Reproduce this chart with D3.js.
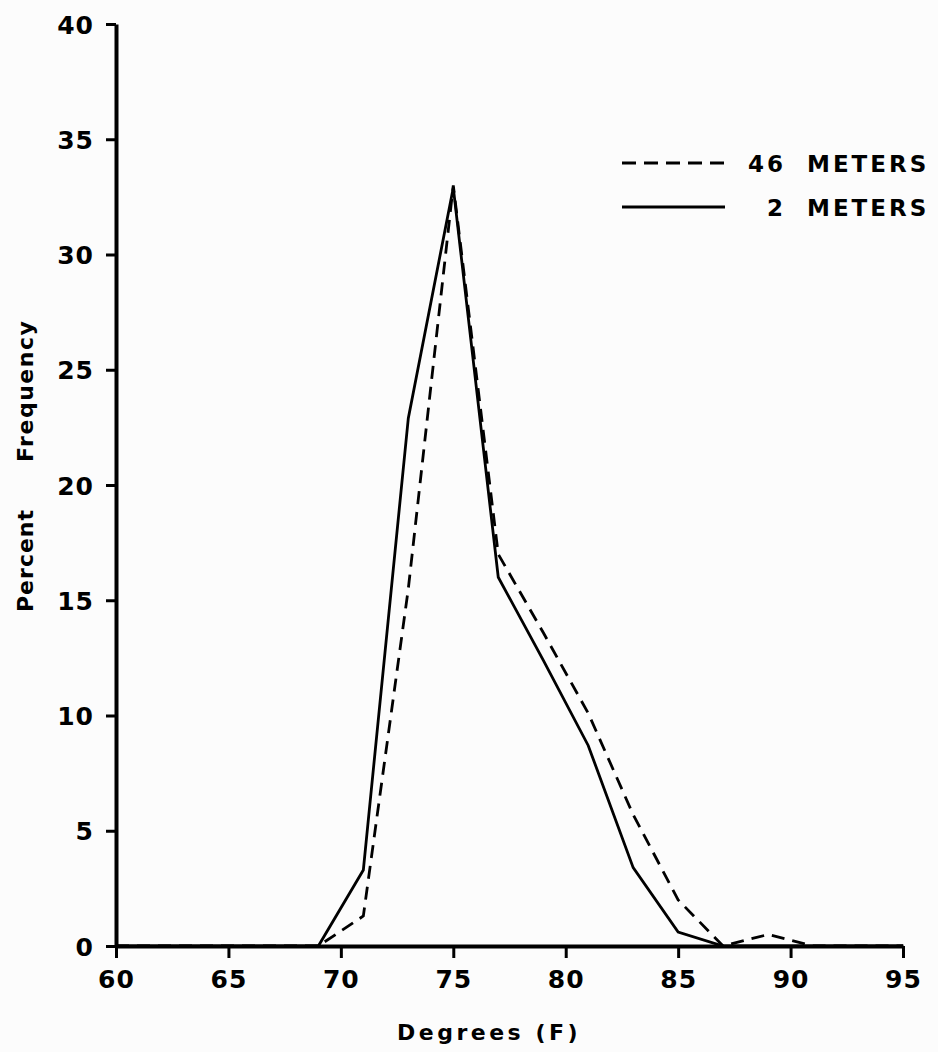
<!DOCTYPE html>
<html>
<head>
<meta charset="utf-8">
<script src="https://cdn.jsdelivr.net/npm/d3@7"></script>
<style>
  html, body { margin: 0; padding: 0; background: #fcfcfc; }
  svg { display: block; }
  text { font-family: "DejaVu Sans", sans-serif; font-weight: bold; fill: #000; }
</style>
</head>
<body>
<script>
// ---- data ----
const degrees     = [60, 69, 71, 73, 75, 77, 79, 81, 83, 85, 87, 89, 91, 95];
const meters46    = [0,  0,  1.3, 15.5, 33.0, 17.0, 13.6, 10.1, 5.7, 2.0, 0, 0.5, 0, 0];
const meters2     = [0,  0,  3.3, 22.9, 32.9, 16.0, 12.4, 8.7, 3.4, 0.6, 0, 0, 0, 0];
const xTicks      = [60, 65, 70, 75, 80, 85, 90, 95];
const yTicks      = [0, 5, 10, 15, 20, 25, 30, 35, 40];
const legendNames = ["46 METERS", "2 METERS"];
const xTitle      = "Degrees (F)";
const yTitleWords = ["Percent", "Frequency"];

const W = 938, H = 1052;
const svg = d3.select("body").append("svg").attr("width", W).attr("height", H);

const x = d3.scaleLinear().domain([60, 95]).range([116, 903]);
const y = d3.scaleLinear().domain([0, 40]).range([946, 24]);

// axes
const xAxis = d3.axisBottom(x).tickValues(xTicks).tickSize(12).tickSizeOuter(0).tickPadding(12);
const yAxis = d3.axisLeft(y).tickValues(yTicks).tickSize(10).tickSizeOuter(0).tickPadding(12);

const gx = svg.append("g").attr("transform", `translate(0,${y(0)})`).call(xAxis);
const gy = svg.append("g").attr("transform", `translate(${x(60)},0)`).call(yAxis);

[gx, gy].forEach(g => {
  g.select(".domain").attr("stroke", "#000").attr("stroke-width", 4);
  g.selectAll(".tick line").attr("stroke", "#000").attr("stroke-width", 3);
  g.selectAll(".tick text")
    .style("font-family", "'DejaVu Sans', sans-serif")
    .style("font-weight", "bold")
    .style("font-size", "25px")
    .style("letter-spacing", "1px")
    .attr("fill", "#000");
});
gy.selectAll(".tick text").attr("dy", "0.36em");

// lines
const line = d3.line().x(d => x(d[0])).y(d => y(d[1]));
const series = [
  { vals: meters46, dash: "13,8" },
  { vals: meters2,  dash: null }
];
series.forEach(s => {
  svg.append("path")
    .datum(degrees.map((d, i) => [d, s.vals[i]]))
    .attr("d", line)
    .attr("fill", "none")
    .attr("stroke", "#000")
    .attr("stroke-width", 2.8)
    .attr("stroke-linejoin", "miter")
    .attr("stroke-dasharray", s.dash);
});

// legend
const legY = [163, 207];
legendNames.forEach((name, i) => {
  svg.append("line")
    .attr("x1", 622).attr("x2", 725)
    .attr("y1", legY[i]).attr("y2", legY[i])
    .attr("stroke", "#000").attr("stroke-width", 3)
    .attr("stroke-dasharray", i === 0 ? "14,8" : null);
  const parts = name.split(" ");
  svg.append("text")
    .attr("x", 786).attr("y", legY[i] + 9)
    .attr("text-anchor", "end")
    .style("font-size", "23px").style("letter-spacing", "3px")
    .text(parts[0]);
  svg.append("text")
    .attr("x", 807).attr("y", legY[i] + 9)
    .style("font-size", "23px").style("letter-spacing", "3px")
    .text(parts[1]);
});

// axis titles
svg.append("text")
  .attr("x", 397).attr("y", 1040)
  .style("font-size", "22px").style("letter-spacing", "3.5px")
  .text(xTitle);

svg.append("text")
  .attr("transform", "translate(33,612) rotate(-90)")
  .style("font-size", "22px").style("letter-spacing", "1px")
  .text(yTitleWords[0]);
svg.append("text")
  .attr("transform", "translate(33,462) rotate(-90)")
  .style("font-size", "22px").style("letter-spacing", "1.5px")
  .text(yTitleWords[1]);
</script>
</body>
</html>
